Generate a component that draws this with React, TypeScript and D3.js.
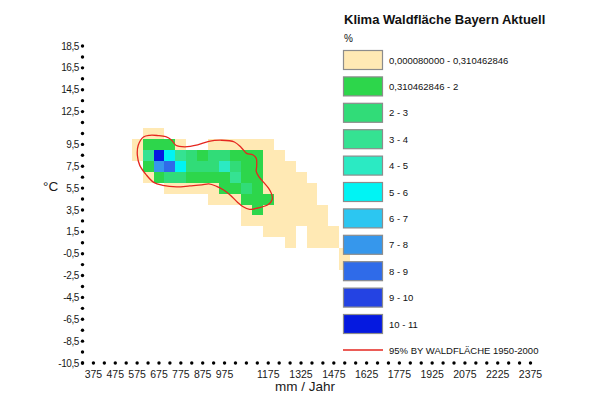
import React, { useEffect, useRef } from 'react';
import * as d3 from 'd3';

// precipitation bins (mm/Jahr, lower edge, 50 mm wide)
const precipStarts = [550, 600, 650, 700, 750, 800, 850, 900, 950, 1000, 1050, 1100, 1150, 1200, 1250, 1300, 1350, 1400, 1450, 1500];
// temperature bins (°C, lower edge, 1 °C high), top row first
const tempStarts = [10, 9, 8, 7, 6, 5, 4, 3, 2, 1, 0, -1, -2];

const _ = null;
// share of forest area in % per climate cell
const cellValues: (number | null)[][] = [
  [_, .1, .1, _, _, _, _, _, _, _, _, _, _, _, _, _, _, _, _, _],
  [.1, 1, 1, 1, .1, _, _, .1, .1, .1, .1, .1, .1, _, _, _, _, _, _, _],
  [.1, 3.5, 10.5, 5.5, 3.5, 2.5, 1, 2.5, 2.5, 1, 1, 1, .1, .1, _, _, _, _, _, _],
  [_, 1, 7.5, 8.5, 5.5, 2.5, 2.5, 2.5, 4.5, 2.5, 1, 1, .1, .1, .1, _, _, _, _, _],
  [_, .1, 1, 2.5, 2.5, 1, 1, 1, 1, 3.5, 1, 1, .1, .1, .1, .1, _, _, _, _],
  [_, _, _, .1, .1, .1, .1, .1, 1, 1, 2.5, 1, .1, .1, .1, .1, .1, _, _, _],
  [_, _, _, _, _, _, _, .1, .1, .1, 1, 1, 1, .1, .1, .1, .1, _, _, _],
  [_, _, _, _, _, _, _, _, _, _, .1, 1, .1, .1, .1, .1, .1, .1, _, _],
  [_, _, _, _, _, _, _, _, _, _, .1, .1, .1, .1, .1, .1, .1, .1, _, _],
  [_, _, _, _, _, _, _, _, _, _, _, _, .1, .1, .1, _, .1, .1, .1, _],
  [_, _, _, _, _, _, _, _, _, _, _, _, _, _, .1, _, .1, .1, .1, _],
  [_, _, _, _, _, _, _, _, _, _, _, _, _, _, _, _, _, _, _, .1],
  [_, _, _, _, _, _, _, _, _, _, _, _, _, _, _, _, _, _, _, .1],
];

const classBreaks = [0.310462846, 2, 3, 4, 5, 6, 7, 8, 9, 10];
const classColors = ['#ffe9b4', '#2dd64b', '#31dc78', '#35e292', '#2beac3', '#00f4f4', '#2cc6f1', '#3697ec', '#2f6be9', '#2443e3', '#0519e0'];
const legendLabels = ['0,000080000 - 0,310462846', '0,310462846 - 2', '2 - 3', '3 - 4', '4 - 5', '5 - 6', '6 - 7', '7 - 8', '8 - 9', '9 - 10', '10 - 11'];

const xTickValues = [375, 475, 575, 675, 775, 875, 975, 1175, 1325, 1475, 1625, 1775, 1925, 2075, 2225, 2375];
const yTickValues = [18.5, 16.5, 14.5, 12.5, 9.5, 7.5, 5.5, 3.5, 1.5, -0.5, -2.5, -4.5, -6.5, -8.5, -10.5];

// 95% envelope of forest area 1950-2000
const contourPrecip = [604, 633, 669, 706, 733, 752, 793, 852, 903, 962, 1020, 1052, 1076, 1104, 1120, 1122, 1120, 1131, 1154, 1177, 1191, 1193, 1175, 1127, 1090, 1058, 1035, 1003, 971, 939, 903, 871, 816, 756, 692, 651, 615, 587, 576, 580];
const contourTemp = [10.18, 10.33, 10.31, 10.2, 9.88, 9.42, 9.28, 9.46, 9.78, 9.88, 9.72, 9.2, 8.68, 8.55, 8.22, 7.49, 7.03, 6.57, 6.02, 5.47, 4.92, 4.46, 4.0, 3.68, 3.55, 3.82, 4.19, 4.83, 5.33, 5.66, 5.89, 5.79, 5.7, 5.61, 5.75, 6.02, 6.76, 7.58, 8.5, 9.42];

export default function App() {
  const svgRef = useRef<SVGSVGElement>(null);

  useEffect(() => {
    if (!svgRef.current) return;
    const svg = d3.select(svgRef.current);
    svg.selectAll('*').remove();

    const font = "'Liberation Sans', Arial, sans-serif";
    const x = d3.scaleLinear().domain([325, 2375]).range([82.5, 530.5]);
    const y = d3.scaleLinear().domain([-10.5, 18.5]).range([363, 46]);
    const color = d3.scaleThreshold<number, string>().domain(classBreaks).range(classColors);

    svg.append('rect').attr('width', 600).attr('height', 399).attr('fill', '#fff');

    // cells
    const cells: { p: number; t: number; v: number }[] = [];
    tempStarts.forEach((t, i) => {
      precipStarts.forEach((p, j) => {
        const v = cellValues[i][j];
        if (v != null) cells.push({ p, t, v });
      });
    });

    svg.append('g')
      .selectAll('rect')
      .data(cells)
      .enter()
      .append('rect')
      .attr('x', d => x(d.p))
      .attr('y', d => y(d.t + 1))
      .attr('width', d => x(d.p + 50) - x(d.p))
      .attr('height', d => y(d.t) - y(d.t + 1))
      .attr('fill', d => color(d.v))
      .attr('shape-rendering', 'crispEdges');

    // contour line
    const pts: [number, number][] = contourPrecip.map((p, i) => [p, contourTemp[i]]);
    svg.append('path')
      .attr('d', d3.line<[number, number]>()
        .x(d => x(d[0]))
        .y(d => y(d[1]))
        .curve(d3.curveCatmullRomClosed.alpha(0.5))(pts))
      .attr('fill', 'none')
      .attr('stroke', '#e5261f')
      .attr('stroke-width', 1.3);

    // dotted axes
    const axis = svg.append('g');
    axis.selectAll('.xdot')
      .data(d3.range(325, 2376, 50))
      .enter()
      .append('circle')
      .attr('cx', d => x(d))
      .attr('cy', y(-10.5))
      .attr('r', 1.7)
      .attr('fill', '#000');
    axis.selectAll('.ydot')
      .data(d3.range(-10.5, 18.6, 1))
      .enter()
      .append('circle')
      .attr('cx', x(325))
      .attr('cy', d => y(d))
      .attr('r', 1.7)
      .attr('fill', '#000');

    const fmt = (v: number) => d3.format('.1f')(v).replace('.', ',').replace('−', '-');
    axis.selectAll('.ylab')
      .data(yTickValues)
      .enter()
      .append('text')
      .attr('x', x(325) - 3.5)
      .attr('y', d => y(d))
      .attr('dy', '0.36em')
      .attr('text-anchor', 'end')
      .attr('font-family', font)
      .attr('font-size', 10)
      .attr('letter-spacing', -0.4)
      .attr('fill', '#1a1a1a')
      .text(d => fmt(d));

    axis.selectAll('.xlab')
      .data(xTickValues)
      .enter()
      .append('text')
      .attr('x', d => x(d))
      .attr('y', 377.5)
      .attr('text-anchor', 'middle')
      .attr('font-family', font)
      .attr('font-size', 10.5)
      .attr('fill', '#1a1a1a')
      .text(d => d);

    svg.append('text')
      .attr('x', 305)
      .attr('y', 390.5)
      .attr('text-anchor', 'middle')
      .attr('font-family', font)
      .attr('font-size', 13.5)
      .attr('fill', '#1a1a1a')
      .text('mm / Jahr');

    svg.append('text')
      .attr('x', 43)
      .attr('y', 191)
      .attr('font-family', font)
      .attr('font-size', 13.5)
      .attr('fill', '#1a1a1a')
      .text('°C');

    // legend
    const legend = svg.append('g').attr('font-family', font).attr('fill', '#111');
    legend.append('text')
      .attr('x', 344)
      .attr('y', 24)
      .attr('font-size', 13)
      .attr('font-weight', 'bold')
      .text('Klima Waldfläche Bayern Aktuell');
    legend.append('text')
      .attr('x', 344)
      .attr('y', 42)
      .attr('font-size', 10)
      .text('%');

    const items = legend.selectAll('.item')
      .data(legendLabels)
      .enter()
      .append('g')
      .attr('transform', (d, i) => `translate(343.5,${50.5 + i * 26.4})`);
    items.append('rect')
      .attr('width', 39)
      .attr('height', 19)
      .attr('fill', (d, i) => classColors[i])
      .attr('stroke', '#8c8c8c')
      .attr('stroke-width', 1.2);
    items.append('text')
      .attr('x', 45.5)
      .attr('y', 13)
      .attr('font-size', 9.5)
      .text(d => d);

    legend.append('line')
      .attr('x1', 343)
      .attr('x2', 383)
      .attr('y1', 350)
      .attr('y2', 350)
      .attr('stroke', '#e5261f')
      .attr('stroke-width', 1.5);
    legend.append('text')
      .attr('x', 389)
      .attr('y', 353.5)
      .attr('font-size', 9.5)
      .text('95% BY WALDFLÄCHE 1950-2000');
  }, []);

  return (
    <svg
      ref={svgRef}
      width={600}
      height={399}
      style={{ position: 'absolute', left: 0, top: 0 }}
    />
  );
}
